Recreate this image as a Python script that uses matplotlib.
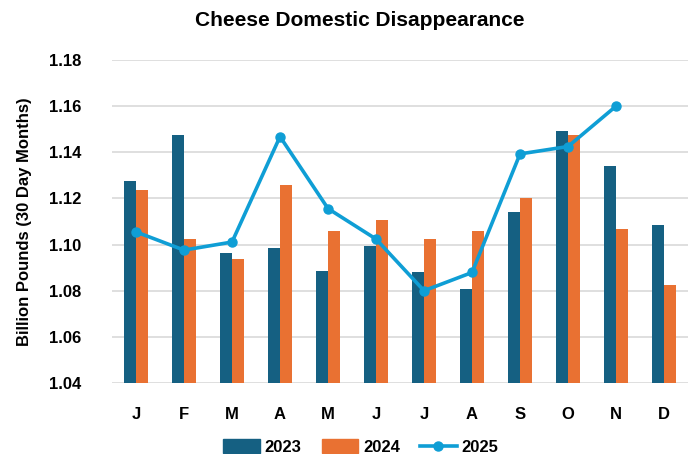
import numpy as np
import matplotlib.pyplot as plt
from matplotlib.lines import Line2D
from matplotlib.patches import Patch

months = ["J", "F", "M", "A", "M", "J", "J", "A", "S", "O", "N", "D"]
y2023 = [1.1277, 1.1474, 1.0964, 1.0986, 1.0885, 1.0993, 1.0881, 1.0808, 1.1142, 1.1493, 1.1340, 1.1084]
y2024 = [1.1238, 1.1025, 1.0938, 1.1257, 1.1058, 1.1106, 1.1025, 1.1058, 1.1200, 1.1474, 1.1068, 1.0823]
y2025 = [1.1055, 1.0976, 1.1011, 1.1468, 1.1156, 1.1024, 1.0800, 1.0879, 1.1393, 1.1425, 1.1600]

c23 = "#156082"
c24 = "#E97132"
c25 = "#0F9ED5"

plt.rcParams["font.family"] = ["Liberation Sans", "DejaVu Sans"]
plt.rcParams["font.weight"] = "bold"
plt.rcParams["axes.labelweight"] = "bold"

fig = plt.figure(figsize=(6.94, 4.54), dpi=100)
ax = fig.add_axes([0.1614, 0.1564, 0.83, 0.7114])

x = np.arange(len(months))
w = 0.25
ax.bar(x - w / 2, y2023, width=w, color=c23, zorder=2)
ax.bar(x + w / 2, y2024, width=w, color=c24, zorder=2)
ax.plot(x[:len(y2025)], y2025, color=c25, lw=2.6, marker="o", ms=6.5, zorder=3)

ax.set_xlim(-0.5, 11.5)
ax.set_ylim(1.04, 1.18)
ticks = np.arange(1.04, 1.181, 0.02)
ax.set_yticks(ticks)
ax.set_yticklabels([f"{v:.2f}" for v in ticks], fontsize=12)
ax.set_xticks(x)
ax.set_xticklabels(months, fontsize=12)
ax.tick_params(axis="both", length=0)
ax.tick_params(axis="x", pad=17)
ax.tick_params(axis="y", pad=22)
ax.yaxis.grid(True, color="#D9D9D9", lw=1.2, zorder=0)
for s in ax.spines.values():
    s.set_visible(False)

ax.set_ylabel("Billion Pounds (30 Day Months)", fontsize=12, labelpad=12)
fig.text(0.518, 0.955, "Cheese Domestic Disappearance", ha="center", va="center",
         fontsize=15, fontweight="bold")

handles = [Patch(color=c23), Patch(color=c24),
           Line2D([], [], color=c25, lw=2.6, marker="o", ms=6.5)]
fig.legend(handles, ["2023", "2024", "2025"], loc="center", bbox_to_anchor=(0.52, 0.015),
           ncol=3, frameon=False, fontsize=12, handlelength=2.2, handleheight=0.9,
           columnspacing=1.2, handletextpad=0.3)

fig.savefig("out.png", dpi=100)
